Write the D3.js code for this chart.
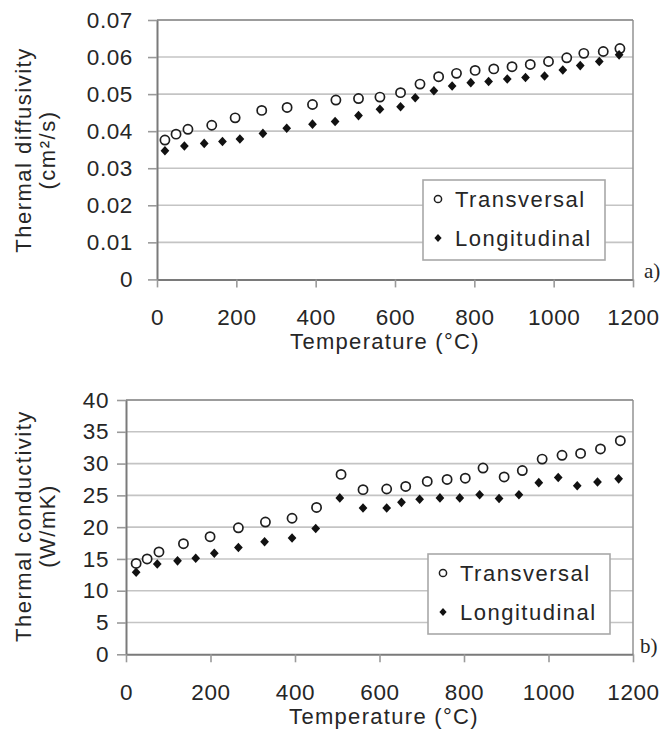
<!DOCTYPE html>
<html>
<head>
<meta charset="utf-8">
<script src="https://cdn.jsdelivr.net/npm/d3@7"></script>
<style>
  body { margin: 0; background: #fff; }
  text { font-family: Arial, "Liberation Sans", sans-serif; fill: #262626; }
</style>
</head>
<body>
<div id="container"></div>
<script>
/**
 * CONSTANTS AND GLOBALS
 * */
const width = 661,
  height = 733;

// x ticks shared by both panels
const tempTicks = [0, 200, 400, 600, 800, 1000, 1200];

// a) thermal diffusivity (cm²/s)
const diffTicks = [0, 0.01, 0.02, 0.03, 0.04, 0.05, 0.06, 0.07];
const diffTransT = [20, 48, 78, 138, 197, 264, 328, 392, 451, 508, 562, 614, 663, 710, 755, 802, 849, 895, 941, 987, 1033, 1076, 1125, 1167];
const diffTransV = [0.0376, 0.0392, 0.0405, 0.0416, 0.0436, 0.0456, 0.0464, 0.0472, 0.0484, 0.0488, 0.0492, 0.0504, 0.0527, 0.0547, 0.0556, 0.0564, 0.0568, 0.0574, 0.058, 0.0588, 0.0598, 0.061, 0.0615, 0.0623];
const diffLongT = [20, 69, 119, 165, 209, 267, 327, 392, 449, 508, 562, 614, 651, 698, 744, 791, 836, 883, 929, 977, 1023, 1067, 1115, 1165];
const diffLongV = [0.0347, 0.036, 0.0367, 0.0372, 0.0379, 0.0394, 0.0408, 0.0419, 0.0426, 0.0442, 0.0459, 0.0466, 0.049, 0.0509, 0.0522, 0.0531, 0.0534, 0.0541, 0.0545, 0.0549, 0.0565, 0.0577, 0.0588, 0.0606];

// b) thermal conductivity (W/mK)
const condTicks = [0, 5, 10, 15, 20, 25, 30, 35, 40];
const condTransT = [24, 50, 78, 136, 199, 266, 330, 393, 451, 509, 561, 617, 662, 713, 760, 803, 845, 895, 938, 985, 1032, 1076, 1123, 1170];
const condTransV = [14.3, 15.0, 16.1, 17.4, 18.5, 19.9, 20.8, 21.4, 23.1, 28.3, 25.9, 26.0, 26.4, 27.2, 27.5, 27.7, 29.3, 27.9, 28.9, 30.7, 31.3, 31.6, 32.3, 33.6];
const condLongT = [24, 74, 122, 165, 209, 266, 328, 393, 449, 506, 561, 617, 652, 695, 743, 790, 837, 883, 930, 977, 1023, 1068, 1116, 1166];
const condLongV = [12.9, 14.2, 14.7, 15.1, 15.9, 16.8, 17.7, 18.3, 19.8, 24.6, 23.0, 23.0, 23.9, 24.4, 24.6, 24.6, 25.1, 24.5, 25.1, 27.0, 27.8, 26.5, 27.1, 27.6];

const seriesNames = ["Transversal", "Longitudinal"];

// diamond marker, a bit wider than d3.symbolDiamond
const diamond = {
  draw(ctx, size) {
    const r = Math.sqrt(size / 2);
    ctx.moveTo(0, -r * 1.1);
    ctx.lineTo(r, 0);
    ctx.lineTo(0, r * 1.1);
    ctx.lineTo(-r, 0);
    ctx.closePath();
  }
};

const svg = d3.select("#container")
  .append("svg")
  .attr("width", width)
  .attr("height", height)
  .style("background-color", "#fff");

function drawPanel(p) {
  const x = d3.scaleLinear().domain([0, 1200]).range([p.left, p.right]);
  const y = d3.scaleLinear().domain([0, p.ticks[p.ticks.length - 1]]).range([p.bottom, p.top]);
  const g = svg.append("g");

  // gridlines
  g.selectAll(".grid")
    .data(p.ticks.slice(1))
    .join("line")
    .attr("x1", p.left).attr("x2", p.right)
    .attr("y1", d => y(d)).attr("y2", d => y(d))
    .attr("stroke", "#c4c4c4")
    .attr("stroke-width", 1.6);

  // right + top border
  g.append("line")
    .attr("x1", p.right).attr("x2", p.right)
    .attr("y1", p.top).attr("y2", p.bottom)
    .attr("stroke", "#9a9a9a").attr("stroke-width", 1.6);
  g.append("line")
    .attr("x1", p.left).attr("x2", p.right)
    .attr("y1", p.top).attr("y2", p.top)
    .attr("stroke", "#8a8a8a").attr("stroke-width", 1.6);

  // axes
  const yAxis = g.append("g")
    .attr("transform", `translate(${p.left},0)`)
    .call(d3.axisLeft(y).tickValues(p.ticks).tickFormat(p.fmt).tickSize(9).tickPadding(p.yPad).tickSizeOuter(0));
  const xAxis = g.append("g")
    .attr("transform", `translate(0,${p.bottom})`)
    .call(d3.axisBottom(x).tickValues(tempTicks).tickFormat(d3.format("d")).tickSize(8).tickPadding(22).tickSizeOuter(0));

  [yAxis, xAxis].forEach(a => {
    a.select(".domain").attr("stroke", "#7a7a7a").attr("stroke-width", 2);
    a.selectAll(".tick line").attr("stroke", "#9a9a9a").attr("stroke-width", 1.6);
    a.selectAll(".tick text")
      .style("font-size", "22.5px")
      .style("letter-spacing", "0.6px")
      .attr("fill", "#262626")
      .style("font-family", "Arial, 'Liberation Sans', sans-serif");
  });

  // markers
  const trans = p.transT.map((t, i) => ({ t, v: p.transV[i] }));
  const longi = p.longT.map((t, i) => ({ t, v: p.longV[i] }));

  g.selectAll(".trans")
    .data(trans)
    .join("circle")
    .attr("cx", d => x(d.t))
    .attr("cy", d => y(d.v))
    .attr("r", 4.6)
    .attr("fill", "#fff")
    .attr("stroke", "#1e1e1e")
    .attr("stroke-width", 1.7);

  g.selectAll(".long")
    .data(longi)
    .join("path")
    .attr("transform", d => `translate(${x(d.t)},${y(d.v)})`)
    .attr("d", d3.symbol(diamond, 38))
    .attr("fill", "#111");

  // axis titles
  g.append("text")
    .attr("x", p.xTitleX)
    .attr("y", p.bottom + 70)
    .attr("text-anchor", "middle")
    .style("font-size", "22px")
    .style("letter-spacing", "1.3px")
    .text("Temperature (°C)");

  const yt = g.append("text")
    .attr("transform", `translate(0,${p.yTitleY}) rotate(-90)`)
    .attr("text-anchor", "middle")
    .style("font-size", "22px")
    .style("letter-spacing", "1.5px");
  yt.append("tspan").attr("x", 0).attr("y", 31).text(p.yTitle[0]);
  yt.append("tspan").attr("x", 0).attr("y", 55).text(p.yTitle[1]);

  // legend
  const lg = g.append("g").attr("transform", `translate(${p.legend[0]},${p.legend[1]})`);
  lg.append("rect")
    .attr("width", 182).attr("height", 80)
    .attr("fill", "#fff")
    .attr("stroke", "#a8a8a8").attr("stroke-width", 1.6);
  seriesNames.forEach((name, i) => {
    const cy = 19 + i * 39;
    if (i === 0) {
      lg.append("circle").attr("cx", 15).attr("cy", cy).attr("r", 3.6)
        .attr("fill", "#fff").attr("stroke", "#1e1e1e").attr("stroke-width", 1.5);
    } else {
      lg.append("path").attr("transform", `translate(15,${cy})`)
        .attr("d", d3.symbol(diamond, 26)).attr("fill", "#111");
    }
    lg.append("text")
      .attr("x", 32).attr("y", cy + 8)
      .style("font-size", "22px")
      .style("letter-spacing", "1.5px")
      .text(name);
  });

  // panel letter
  g.append("text")
    .attr("x", p.letterX).attr("y", p.bottom - 1)
    .style("font-family", "'Liberation Serif', 'Times New Roman', serif")
    .style("font-size", "21px")
    .attr("fill", "#111")
    .text(p.letter);
}

drawPanel({
  left: 157, right: 633, top: 20, bottom: 279.4,
  ticks: diffTicks,
  fmt: d => (d === 0 ? "0" : d3.format(".2f")(d)),
  yPad: 15,
  transT: diffTransT, transV: diffTransV,
  longT: diffLongT, longV: diffLongV,
  yTitle: ["Thermal diffusivity", "(cm²/s)"],
  yTitleY: 150,
  xTitleX: 385,
  legend: [423, 180],
  letter: "a)", letterX: 644
});

drawPanel({
  left: 126, right: 633, top: 400, bottom: 654.3,
  ticks: condTicks,
  fmt: d3.format("d"),
  yPad: 8,
  transT: condTransT, transV: condTransV,
  longT: condLongT, longV: condLongV,
  yTitle: ["Thermal conductivity", "(W/mK)"],
  yTitleY: 526,
  xTitleX: 384,
  legend: [428, 554],
  letter: "b)", letterX: 640
});
</script>
</body>
</html>
